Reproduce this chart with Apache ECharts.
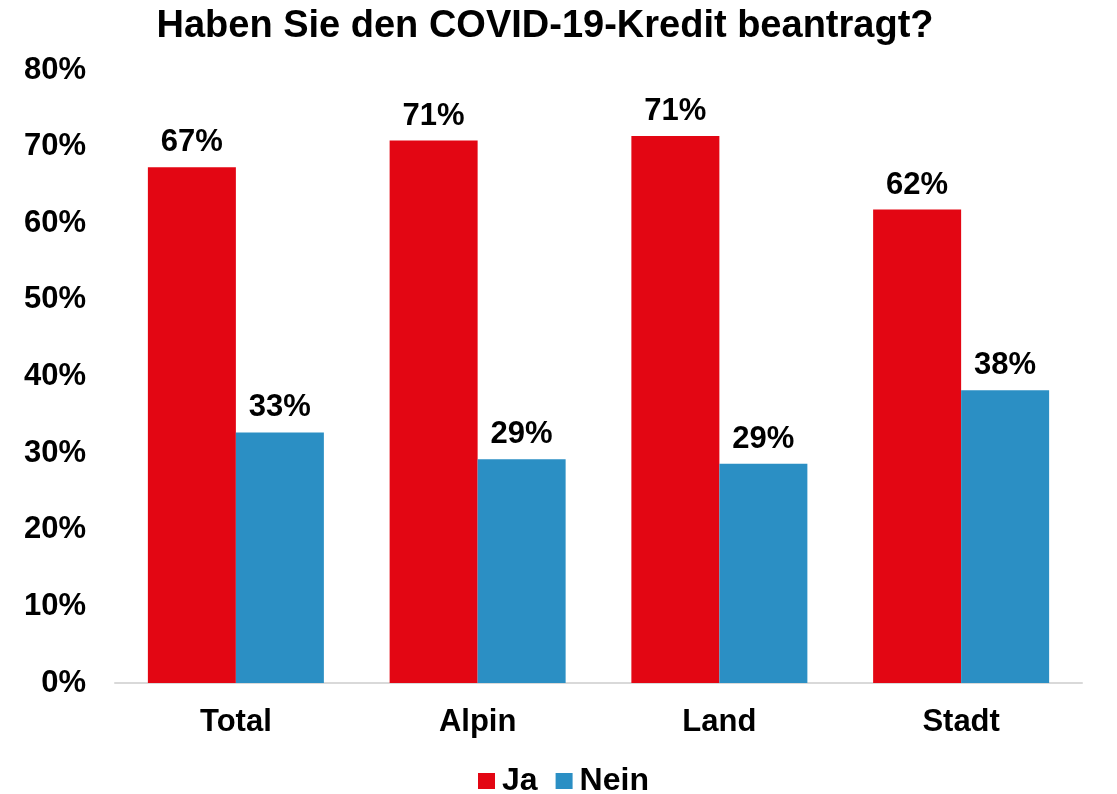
<!DOCTYPE html>
<html>
<head>
<meta charset="utf-8">
<script src="https://cdn.jsdelivr.net/npm/echarts@6/dist/echarts.min.js"></script>
<style>
  html, body { margin: 0; padding: 0; background: #fff; }
  #main { width: 1117px; height: 794px; }
</style>
</head>
<body>
<div id="main"></div>
<script>
// Kategorien und Werte (in %)
const categories = ['Total', 'Alpin', 'Land', 'Stadt'];
const jaValues = [67.3, 70.8, 71.4, 61.8];
const neinValues = [32.7, 29.2, 28.6, 38.2];

const font = 'Liberation Sans, Arial, sans-serif';
const myChart = echarts.init(document.getElementById('main'));

const labelStyle = {
  show: true,
  position: 'top',
  distance: 9,
  color: '#000',
  fontWeight: 'bold',
  fontSize: 31,
  fontFamily: font,
  formatter: function (p) {
    return Math.round(p.value) + '%';
  }
};

const option = {
  animation: false,
  title: {
    text: 'Haben Sie den COVID-19-Kredit beantragt?',
    left: 540,
    textAlign: 'center',
    top: 3,
    textStyle: {
      color: '#000',
      fontWeight: 'bold',
      fontSize: 38,
      fontFamily: font
    }
  },
  legend: {
    bottom: -8,
    left: 473,
    itemWidth: 17,
    itemHeight: 16,
    itemGap: 18,
    icon: 'rect',
    textStyle: {
      color: '#000',
      fontWeight: 'bold',
      fontSize: 32,
      fontFamily: font,
      padding: [0, 0, 0, 2]
    },
    data: ['Ja', 'Nein']
  },
  grid: {
    left: 115,
    right: 35,
    top: 70,
    bottom: 111
  },
  xAxis: {
    type: 'category',
    data: categories,
    axisTick: { show: false },
    axisLine: { lineStyle: { color: '#d9d9d9', width: 2 } },
    axisLabel: {
      color: '#000',
      fontWeight: 'bold',
      fontSize: 31,
      fontFamily: font,
      margin: 24
    }
  },
  yAxis: {
    type: 'value',
    min: 0,
    max: 80,
    interval: 10,
    splitLine: { show: false },
    axisLine: { show: false },
    axisTick: { show: false },
    axisLabel: {
      color: '#000',
      fontWeight: 'bold',
      fontSize: 31,
      fontFamily: font,
      margin: 29,
      formatter: '{value}%'
    }
  },
  series: [
    {
      name: 'Ja',
      type: 'bar',
      data: jaValues,
      barWidth: 88,
      barGap: '0%',
      itemStyle: { color: '#E30613' },
      label: labelStyle
    },
    {
      name: 'Nein',
      type: 'bar',
      data: neinValues,
      barWidth: 88,
      barGap: '0%',
      itemStyle: { color: '#2B8FC4' },
      label: labelStyle
    }
  ]
};

myChart.setOption(option);
</script>
</body>
</html>
